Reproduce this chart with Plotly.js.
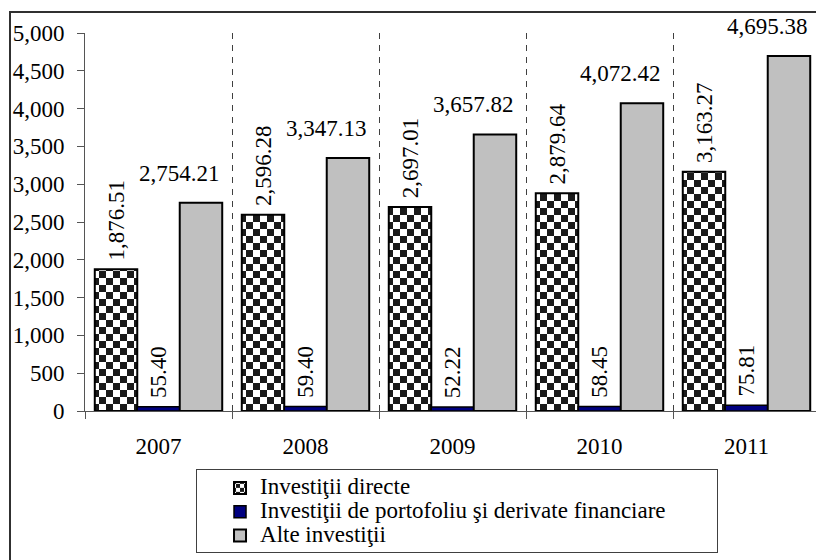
<!DOCTYPE html>
<html><head><meta charset="utf-8">
<script src="https://cdn.plot.ly/plotly-3.0.1.min.js"></script>
<style>
html,body{margin:0;padding:0;background:#fff;overflow:hidden;}
#wrap{position:relative;width:816px;height:560px;overflow:hidden;}
#chart{position:absolute;left:0;top:0;width:816px;height:560px;}
#frame{position:absolute;left:9px;top:11px;width:900px;height:700px;border:2px solid #303030;pointer-events:none;}
#legbox{position:absolute;left:196px;top:469px;width:520px;height:82px;border:1px solid #404040;pointer-events:none;}
</style></head><body>
<div id="wrap"><div id="chart"></div><div id="frame"></div><div id="legbox"></div></div>
<script>
// ---- data ----
const years = ['2007', '2008', '2009', '2010', '2011'];
const directe = [1876.51, 2596.28, 2697.01, 2879.64, 3163.27];
const portofoliu = [55.40, 59.40, 52.22, 58.45, 75.81];
const alte = [2754.21, 3347.13, 3657.82, 4072.42, 4695.38];
const seriesNames = ['Investiţii directe', 'Investiţii de portofoliu şi derivate financiare', 'Alte investiţii'];
const yTickVals = [0, 500, 1000, 1500, 2000, 2500, 3000, 3500, 4000, 4500, 5000];

// ---- styling ----
const FONT = 'Liberation Serif';
const FS = 23;
const fmt = v => v.toLocaleString('en-US', {minimumFractionDigits: 2, maximumFractionDigits: 2});
const legName = s => '<span style="font-size:' + FS + 'px">' + s + '</span>';

const common = {
  type: 'bar', x: years, cliponaxis: false, constraintext: 'none',
  textfont: {family: FONT, size: FS, color: '#000'},
  outsidetextfont: {family: FONT, size: FS, color: '#000'}
};

const data = [
  Object.assign({}, common, {
    name: legName(seriesNames[0]), y: directe,
    text: directe.map(v => '\u00a0' + fmt(v)), textposition: 'outside', textangle: -90,
    marker: {color: '#ffffff', line: {color: '#000', width: 2},
      pattern: {shape: '.', fgcolor: '#1a1a1a', bgcolor: '#ffffff', size: 14, solidity: 0.3}}
  }),
  Object.assign({}, common, {
    name: legName(seriesNames[1]), y: portofoliu,
    text: portofoliu.map(v => '\u00a0' + fmt(v)), textposition: 'outside', textangle: -90,
    marker: {color: '#000080', line: {color: '#000', width: 1.5}}
  }),
  Object.assign({}, common, {
    name: legName(seriesNames[2]), y: alte, textposition: 'none',
    marker: {color: '#c0c0c0', line: {color: '#000', width: 2}}
  })
];

// labels of the third series, placed via the category index on the x scale
const annotations = years.map((yr, i) => ({
  x: i, y: alte[i], xref: 'x', yref: 'y', text: fmt(alte[i]), showarrow: false,
  xanchor: 'center', yanchor: 'bottom', xshift: 21, yshift: 15,
  font: {family: FONT, size: FS, color: '#000'}
}));

const layout = {
  width: 816, height: 560,
  margin: {l: 85, r: 0, t: 33, b: 149, autoexpand: false},
  paper_bgcolor: '#fff', plot_bgcolor: '#fff',
  barmode: 'group', bargap: 0.133, bargroupgap: 0,
  font: {family: FONT, size: FS, color: '#000'},
  showlegend: true,
  legend: {
    x: 0.1847, y: -0.1587, xanchor: 'left', yanchor: 'top',
    bgcolor: 'rgba(0,0,0,0)', borderwidth: 0, traceorder: 'normal',
    font: {family: FONT, size: 16, color: '#000'}
  },
  xaxis: {
    type: 'category', range: [-0.5, 4.4728], fixedrange: true,
    tickson: 'boundaries', ticks: 'outside', ticklen: 7, tickcolor: '#555', tickwidth: 1,
    showline: true, linecolor: '#555', linewidth: 1,
    showgrid: true, gridcolor: '#404040', gridwidth: 1, griddash: '6px,6px',
    tickfont: {family: FONT, size: FS, color: '#000'}, ticklabelstandoff: 14
  },
  yaxis: {
    range: [0, 5000], tickvals: yTickVals, tickformat: ',d', fixedrange: true,
    ticks: 'outside', ticklen: 7, tickcolor: '#555', tickwidth: 1,
    showline: true, linecolor: '#555', linewidth: 1, showgrid: false, zeroline: false,
    tickfont: {family: FONT, size: FS, color: '#000'}, ticklabelstandoff: 8
  },
  annotations: annotations
};

Plotly.newPlot('chart', data, layout, {staticPlot: true, displayModeBar: false}).then(gd => {
  // turn the dot pattern tile into a checkerboard tile
  const ns = 'http://www.w3.org/2000/svg';
  gd.querySelectorAll('pattern').forEach(p => {
    const c = p.querySelector('circle');
    if (!c) return;
    const w = parseFloat(p.getAttribute('width')), h = parseFloat(p.getAttribute('height'));
    c.remove();
    [[0, 0], [w / 2, h / 2]].forEach(([x, y]) => {
      const r = document.createElementNS(ns, 'rect');
      r.setAttribute('x', x); r.setAttribute('y', y);
      r.setAttribute('width', w / 2); r.setAttribute('height', h / 2);
      r.setAttribute('fill', '#1a1a1a');
      p.appendChild(r);
    });
  });
});
</script>
</body></html>
